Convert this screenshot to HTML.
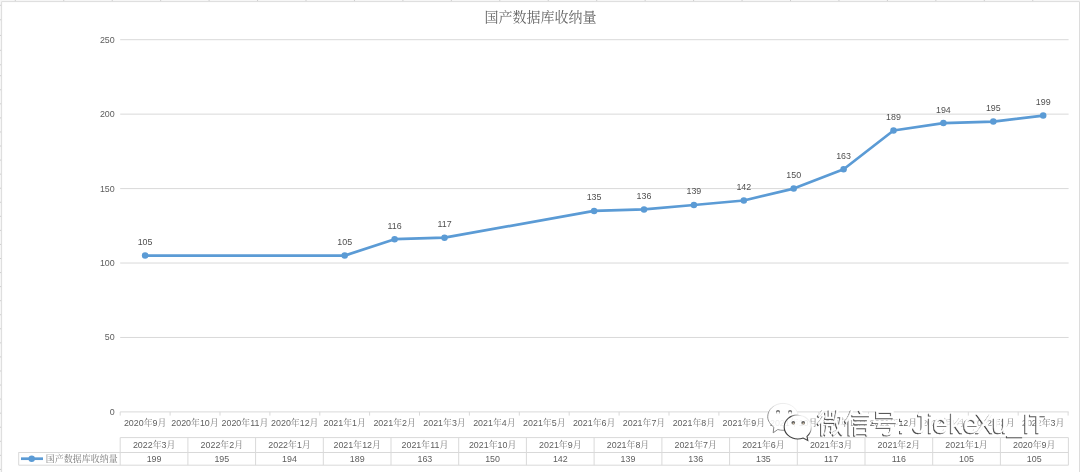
<!DOCTYPE html><html><head><meta charset="utf-8"><title>国产数据库收纳量</title><style>html,body{margin:0;padding:0;background:#fff;width:1080px;height:472px;overflow:hidden}svg{display:block;will-change:transform}text{font-family:"Liberation Sans", "Noto Serif CJK SC", sans-serif}.c{fill:#7a7a7a}</style></head><body>
<svg width="1080" height="472" viewBox="0 0 1080 472">
<rect x="0" y="0" width="1080" height="472" fill="#fff"/>
<rect x="0" y="0" width="1080" height="1.2" fill="#f6f6f6"/>
<rect x="0" y="0" width="1.2" height="472" fill="#f6f6f6"/>
<g fill="#cfcfcf">
<rect x="14.80" y="0" width="1" height="1.4"/>
<rect x="63.25" y="0" width="1" height="1.4"/>
<rect x="111.70" y="0" width="1" height="1.4"/>
<rect x="160.15" y="0" width="1" height="1.4"/>
<rect x="208.60" y="0" width="1" height="1.4"/>
<rect x="257.05" y="0" width="1" height="1.4"/>
<rect x="305.50" y="0" width="1" height="1.4"/>
<rect x="353.95" y="0" width="1" height="1.4"/>
<rect x="402.40" y="0" width="1" height="1.4"/>
<rect x="450.85" y="0" width="1" height="1.4"/>
<rect x="499.30" y="0" width="1" height="1.4"/>
<rect x="547.75" y="0" width="1" height="1.4"/>
<rect x="596.20" y="0" width="1" height="1.4"/>
<rect x="644.65" y="0" width="1" height="1.4"/>
<rect x="693.10" y="0" width="1" height="1.4"/>
<rect x="741.55" y="0" width="1" height="1.4"/>
<rect x="790.00" y="0" width="1" height="1.4"/>
<rect x="838.45" y="0" width="1" height="1.4"/>
<rect x="886.90" y="0" width="1" height="1.4"/>
<rect x="935.35" y="0" width="1" height="1.4"/>
<rect x="983.80" y="0" width="1" height="1.4"/>
<rect x="1032.25" y="0" width="1" height="1.4"/>
<rect x="0" y="4.80" width="1.4" height="1"/>
<rect x="0" y="19.30" width="1.4" height="1"/>
<rect x="0" y="34.90" width="1.4" height="1"/>
<rect x="0" y="49.80" width="1.4" height="1"/>
<rect x="0" y="64.30" width="1.4" height="1"/>
<rect x="0" y="468.90" width="1.4" height="1"/>
<rect x="0" y="454.84" width="1.4" height="1"/>
<rect x="0" y="440.78" width="1.4" height="1"/>
<rect x="0" y="426.72" width="1.4" height="1"/>
<rect x="0" y="412.66" width="1.4" height="1"/>
<rect x="0" y="398.60" width="1.4" height="1"/>
<rect x="0" y="384.54" width="1.4" height="1"/>
<rect x="0" y="370.48" width="1.4" height="1"/>
<rect x="0" y="356.42" width="1.4" height="1"/>
<rect x="0" y="342.36" width="1.4" height="1"/>
<rect x="0" y="328.30" width="1.4" height="1"/>
<rect x="0" y="314.24" width="1.4" height="1"/>
<rect x="0" y="300.18" width="1.4" height="1"/>
<rect x="0" y="286.12" width="1.4" height="1"/>
<rect x="0" y="272.06" width="1.4" height="1"/>
<rect x="0" y="258.00" width="1.4" height="1"/>
<rect x="0" y="243.94" width="1.4" height="1"/>
<rect x="0" y="229.88" width="1.4" height="1"/>
<rect x="0" y="215.82" width="1.4" height="1"/>
<rect x="0" y="201.76" width="1.4" height="1"/>
<rect x="0" y="187.70" width="1.4" height="1"/>
<rect x="0" y="173.64" width="1.4" height="1"/>
<rect x="0" y="159.58" width="1.4" height="1"/>
<rect x="0" y="145.52" width="1.4" height="1"/>
<rect x="0" y="131.46" width="1.4" height="1"/>
<rect x="0" y="117.40" width="1.4" height="1"/>
<rect x="0" y="103.34" width="1.4" height="1"/>
<rect x="0" y="89.28" width="1.4" height="1"/>
<rect x="0" y="75.22" width="1.4" height="1"/>
</g>
<path d="M1.6 472V1.6H1079.5V472" fill="none" stroke="#dcdcdc" stroke-width="1"/>
<text x="540.5" y="21.8" text-anchor="middle" font-size="14" fill="#646464" style="font-family:'Liberation Serif','Noto Serif CJK SC',serif">国产数据库收纳量</text>
<g stroke="#d9d9d9" stroke-width="1">
<line x1="120.2" y1="337.46" x2="1068.6" y2="337.46"/>
<line x1="120.2" y1="263.02" x2="1068.6" y2="263.02"/>
<line x1="120.2" y1="188.58" x2="1068.6" y2="188.58"/>
<line x1="120.2" y1="114.14" x2="1068.6" y2="114.14"/>
<line x1="120.2" y1="39.70" x2="1068.6" y2="39.70"/>
<line x1="120.2" y1="411.90" x2="1068.6" y2="411.90"/>
<line x1="120.2" y1="411.90" x2="120.2" y2="415.6"/>
<line x1="170.1" y1="411.90" x2="170.1" y2="415.6"/>
<line x1="220.0" y1="411.90" x2="220.0" y2="415.6"/>
<line x1="269.9" y1="411.90" x2="269.9" y2="415.6"/>
<line x1="319.8" y1="411.90" x2="319.8" y2="415.6"/>
<line x1="369.6" y1="411.90" x2="369.6" y2="415.6"/>
<line x1="419.5" y1="411.90" x2="419.5" y2="415.6"/>
<line x1="469.4" y1="411.90" x2="469.4" y2="415.6"/>
<line x1="519.3" y1="411.90" x2="519.3" y2="415.6"/>
<line x1="569.2" y1="411.90" x2="569.2" y2="415.6"/>
<line x1="619.1" y1="411.90" x2="619.1" y2="415.6"/>
<line x1="669.0" y1="411.90" x2="669.0" y2="415.6"/>
<line x1="718.9" y1="411.90" x2="718.9" y2="415.6"/>
<line x1="768.8" y1="411.90" x2="768.8" y2="415.6"/>
<line x1="818.7" y1="411.90" x2="818.7" y2="415.6"/>
<line x1="868.5" y1="411.90" x2="868.5" y2="415.6"/>
<line x1="918.4" y1="411.90" x2="918.4" y2="415.6"/>
<line x1="968.3" y1="411.90" x2="968.3" y2="415.6"/>
<line x1="1018.2" y1="411.90" x2="1018.2" y2="415.6"/>
<line x1="1068.1" y1="411.90" x2="1068.1" y2="415.6"/>
</g>
<g font-size="8.9" fill="#5e5e5e" text-anchor="end">
<text x="114.7" y="414.8">0</text>
<text x="114.7" y="340.4">50</text>
<text x="114.7" y="265.9">100</text>
<text x="114.7" y="191.5">150</text>
<text x="114.7" y="117.0">200</text>
<text x="114.7" y="42.6">250</text>
</g>
<g font-size="8.9" fill="#5e5e5e" text-anchor="middle">
<text x="145.1" y="426.3">2020<tspan class="c">年</tspan>9<tspan class="c">月</tspan></text>
<text x="195.0" y="426.3">2020<tspan class="c">年</tspan>10<tspan class="c">月</tspan></text>
<text x="244.9" y="426.3">2020<tspan class="c">年</tspan>11<tspan class="c">月</tspan></text>
<text x="294.8" y="426.3">2020<tspan class="c">年</tspan>12<tspan class="c">月</tspan></text>
<text x="344.7" y="426.3">2021<tspan class="c">年</tspan>1<tspan class="c">月</tspan></text>
<text x="394.6" y="426.3">2021<tspan class="c">年</tspan>2<tspan class="c">月</tspan></text>
<text x="444.5" y="426.3">2021<tspan class="c">年</tspan>3<tspan class="c">月</tspan></text>
<text x="494.4" y="426.3">2021<tspan class="c">年</tspan>4<tspan class="c">月</tspan></text>
<text x="544.3" y="426.3">2021<tspan class="c">年</tspan>5<tspan class="c">月</tspan></text>
<text x="594.1" y="426.3">2021<tspan class="c">年</tspan>6<tspan class="c">月</tspan></text>
<text x="644.0" y="426.3">2021<tspan class="c">年</tspan>7<tspan class="c">月</tspan></text>
<text x="693.9" y="426.3">2021<tspan class="c">年</tspan>8<tspan class="c">月</tspan></text>
<text x="743.8" y="426.3">2021<tspan class="c">年</tspan>9<tspan class="c">月</tspan></text>
<text x="793.7" y="426.3">2021<tspan class="c">年</tspan>10<tspan class="c">月</tspan></text>
<text x="843.6" y="426.3">2021<tspan class="c">年</tspan>11<tspan class="c">月</tspan></text>
<text x="893.5" y="426.3">2021<tspan class="c">年</tspan>12<tspan class="c">月</tspan></text>
<text x="943.4" y="426.3">2022<tspan class="c">年</tspan>1<tspan class="c">月</tspan></text>
<text x="993.3" y="426.3">2022<tspan class="c">年</tspan>2<tspan class="c">月</tspan></text>
<text x="1043.2" y="426.3">2022<tspan class="c">年</tspan>3<tspan class="c">月</tspan></text>
</g>
<polyline points="145.1,255.6 344.7,255.6 394.6,239.2 444.5,237.7 594.1,210.9 644.0,209.4 693.9,205.0 743.8,200.5 793.7,188.6 843.6,169.2 893.5,130.5 943.4,123.1 993.3,121.6 1043.2,115.6" fill="none" stroke="#5b9bd5" stroke-width="2.7" stroke-linejoin="round" stroke-linecap="round"/>
<g fill="#5b9bd5">
<circle cx="145.1" cy="255.6" r="3.25"/>
<circle cx="344.7" cy="255.6" r="3.25"/>
<circle cx="394.6" cy="239.2" r="3.25"/>
<circle cx="444.5" cy="237.7" r="3.25"/>
<circle cx="594.1" cy="210.9" r="3.25"/>
<circle cx="644.0" cy="209.4" r="3.25"/>
<circle cx="693.9" cy="205.0" r="3.25"/>
<circle cx="743.8" cy="200.5" r="3.25"/>
<circle cx="793.7" cy="188.6" r="3.25"/>
<circle cx="843.6" cy="169.2" r="3.25"/>
<circle cx="893.5" cy="130.5" r="3.25"/>
<circle cx="943.4" cy="123.1" r="3.25"/>
<circle cx="993.3" cy="121.6" r="3.25"/>
<circle cx="1043.2" cy="115.6" r="3.25"/>
</g>
<g font-size="8.9" fill="#505050" text-anchor="middle">
<text x="145.1" y="245.0">105</text>
<text x="344.7" y="245.0">105</text>
<text x="394.6" y="228.6">116</text>
<text x="444.5" y="227.1">117</text>
<text x="594.1" y="200.3">135</text>
<text x="644.0" y="198.8">136</text>
<text x="693.9" y="194.4">139</text>
<text x="743.8" y="189.9">142</text>
<text x="793.7" y="178.0">150</text>
<text x="843.6" y="158.6">163</text>
<text x="893.5" y="119.9">189</text>
<text x="943.4" y="112.5">194</text>
<text x="993.3" y="111.0">195</text>
<text x="1043.2" y="105.0">199</text>
</g>
<g stroke="#d9d9d9" stroke-width="1" fill="none">
<path d="M120.2 437.6H1068.4V465.2H18.7V452.5H120.2M120.2 437.6V465.2"/>
<path d="M18.7 452.5H1068.4"/>
<path d="M187.9 437.6V465.2"/>
<path d="M255.6 437.6V465.2"/>
<path d="M323.3 437.6V465.2"/>
<path d="M391.0 437.6V465.2"/>
<path d="M458.7 437.6V465.2"/>
<path d="M526.4 437.6V465.2"/>
<path d="M594.1 437.6V465.2"/>
<path d="M661.9 437.6V465.2"/>
<path d="M729.6 437.6V465.2"/>
<path d="M797.3 437.6V465.2"/>
<path d="M865.0 437.6V465.2"/>
<path d="M932.7 437.6V465.2"/>
<path d="M1000.4 437.6V465.2"/>
</g>
<g font-size="8.9" fill="#5e5e5e" text-anchor="middle">
<text x="154.1" y="448.1">2022<tspan class="c">年</tspan>3<tspan class="c">月</tspan></text>
<text x="154.1" y="461.8">199</text>
<text x="221.8" y="448.1">2022<tspan class="c">年</tspan>2<tspan class="c">月</tspan></text>
<text x="221.8" y="461.8">195</text>
<text x="289.5" y="448.1">2022<tspan class="c">年</tspan>1<tspan class="c">月</tspan></text>
<text x="289.5" y="461.8">194</text>
<text x="357.2" y="448.1">2021<tspan class="c">年</tspan>12<tspan class="c">月</tspan></text>
<text x="357.2" y="461.8">189</text>
<text x="424.9" y="448.1">2021<tspan class="c">年</tspan>11<tspan class="c">月</tspan></text>
<text x="424.9" y="461.8">163</text>
<text x="492.6" y="448.1">2021<tspan class="c">年</tspan>10<tspan class="c">月</tspan></text>
<text x="492.6" y="461.8">150</text>
<text x="560.3" y="448.1">2021<tspan class="c">年</tspan>9<tspan class="c">月</tspan></text>
<text x="560.3" y="461.8">142</text>
<text x="628.0" y="448.1">2021<tspan class="c">年</tspan>8<tspan class="c">月</tspan></text>
<text x="628.0" y="461.8">139</text>
<text x="695.7" y="448.1">2021<tspan class="c">年</tspan>7<tspan class="c">月</tspan></text>
<text x="695.7" y="461.8">136</text>
<text x="763.4" y="448.1">2021<tspan class="c">年</tspan>6<tspan class="c">月</tspan></text>
<text x="763.4" y="461.8">135</text>
<text x="831.1" y="448.1">2021<tspan class="c">年</tspan>3<tspan class="c">月</tspan></text>
<text x="831.1" y="461.8">117</text>
<text x="898.8" y="448.1">2021<tspan class="c">年</tspan>2<tspan class="c">月</tspan></text>
<text x="898.8" y="461.8">116</text>
<text x="966.5" y="448.1">2021<tspan class="c">年</tspan>1<tspan class="c">月</tspan></text>
<text x="966.5" y="461.8">105</text>
<text x="1034.2" y="448.1">2020<tspan class="c">年</tspan>9<tspan class="c">月</tspan></text>
<text x="1034.2" y="461.8">105</text>
</g>
<line x1="21" y1="458.7" x2="43" y2="458.7" stroke="#5b9bd5" stroke-width="2.7"/>
<circle cx="31.7" cy="458.7" r="3.2" fill="#5b9bd5"/>
<text x="45.8" y="462.1" font-size="9.0" fill="#7a7a7a">国产数据库收纳量</text>
<defs><linearGradient id="gs" x1="0" y1="1" x2="1" y2="0"><stop offset="0" stop-color="#333"/><stop offset="0.58" stop-color="#4a4a4a"/><stop offset="0.7" stop-color="#b0b0b0"/><stop offset="0.8" stop-color="#eee"/></linearGradient><linearGradient id="gb" x1="0" y1="1" x2="1" y2="0"><stop offset="0" stop-color="#777"/><stop offset="0.35" stop-color="#999"/><stop offset="0.6" stop-color="#e8e8e8"/><stop offset="1" stop-color="#f4f4f4"/></linearGradient><mask id="ms" maskUnits="userSpaceOnUse" x="760" y="395" width="60" height="50"><rect x="760" y="395" width="60" height="50" fill="#fff"/><path d="M797.75 415.3c7.5 0 13.55 5.4 13.55 12.05 0 3.6-1.6 6.8-4.3 9l.8 4.2-4.6-2.5c-1.7.6-3.5.9-5.45.9-7.5 0-13.55-5.4-13.55-12.05 0-6.65 6.05-12.05 13.55-12.05z" fill="#000"/></mask></defs>
<path d="M783 403.4c8.5 0 15.3 6 15.3 13.45 0 7.4-6.8 13.45-15.3 13.45-1.9 0-3.6-.3-5.2-.8l-4.6 3.3.6-5.6C770.6 424.6 767.7 421 767.7 416.85 767.7 409.4 774.5 403.4 783 403.4z M797.75 415.3c7.5 0 13.55 5.4 13.55 12.05 0 3.6-1.6 6.8-4.3 9l.8 4.2-4.6-2.5c-1.7.6-3.5.9-5.45.9-7.5 0-13.55-5.4-13.55-12.05 0-6.65 6.05-12.05 13.55-12.05z" fill="#fff" fill-opacity="0.88"/>
<path d="M783 403.4c8.5 0 15.3 6 15.3 13.45 0 7.4-6.8 13.45-15.3 13.45-1.9 0-3.6-.3-5.2-.8l-4.6 3.3.6-5.6C770.6 424.6 767.7 421 767.7 416.85 767.7 409.4 774.5 403.4 783 403.4z" fill="none" stroke="url(#gb)" stroke-width="1" mask="url(#ms)"/>
<path d="M797.75 415.3c7.5 0 13.55 5.4 13.55 12.05 0 3.6-1.6 6.8-4.3 9l.8 4.2-4.6-2.5c-1.7.6-3.5.9-5.45.9-7.5 0-13.55-5.4-13.55-12.05 0-6.65 6.05-12.05 13.55-12.05z" fill="none" stroke="url(#gs)" stroke-width="1.1"/>
<circle cx="778.0" cy="412.1" r="2.0" fill="#6a6a6a"/>
<circle cx="778.0" cy="413.0" r="1.55" fill="#fafafa"/>
<circle cx="790.1" cy="412.1" r="2.0" fill="#6a6a6a"/>
<circle cx="790.1" cy="413.0" r="1.55" fill="#fafafa"/>
<circle cx="793.3" cy="422.7" r="1.8" fill="#5a5a5a"/>
<circle cx="793.5" cy="423.5" r="1.0" fill="#c8b8a0"/>
<circle cx="803.2" cy="422.7" r="1.8" fill="#5a5a5a"/>
<circle cx="803.4" cy="423.5" r="1.0" fill="#c8b8a0"/>
<clipPath id="hc"><rect x="760" y="413.2" width="320" height="23.6"/></clipPath>
<g opacity="0.45" clip-path="url(#hc)">
<text x="817.2" y="432.6" font-size="27" fill="#fff" stroke="#fff" stroke-width="4.50" stroke-linejoin="round" style="font-family:'Liberation Sans','Noto Sans CJK SC',sans-serif;font-weight:400">微信号</text>
<g transform="translate(0.00,432.60) scale(1.000,1)"><text x="897.82 906.00 912.76 927.17 933.05 949.17 963.35 975.40 992.23 1007.41 1023.09 1029.40" y="0 0 0 0 0 0 0 0 0 -1.3 0 0" font-size="27.3" fill="#fff" stroke="#fff" stroke-width="4.50" stroke-linejoin="round" style="font-family:'Liberation Sans',sans-serif">: JiekeXu_IT</text></g>
</g>
<text x="816.2" y="433.6" font-size="27" fill="#454545" stroke="#454545" stroke-width="0.40" stroke-linejoin="round" style="font-family:'Liberation Sans','Noto Sans CJK SC',sans-serif;font-weight:400">微信号</text>
<g transform="translate(-1.00,433.60) scale(1.000,1)"><text x="897.82 906.00 912.76 927.17 933.05 949.17 963.35 975.40 992.23 1007.41 1023.09 1029.40" y="0 0 0 0 0 0 0 0 0 -1.3 0 0" font-size="27.3" fill="#454545" stroke="#454545" stroke-width="0.40" stroke-linejoin="round" style="font-family:'Liberation Sans',sans-serif">: JiekeXu_IT</text></g>
<text x="817.2" y="432.6" font-size="27" fill="#fff" stroke="#fff" stroke-width="0.50" stroke-linejoin="round" style="font-family:'Liberation Sans','Noto Sans CJK SC',sans-serif;font-weight:400">微信号</text>
<g transform="translate(0.00,432.60) scale(1.000,1)"><text x="897.82 906.00 912.76 927.17 933.05 949.17 963.35 975.40 992.23 1007.41 1023.09 1029.40" y="0 0 0 0 0 0 0 0 0 -1.3 0 0" font-size="27.3" fill="#fff" stroke="#fff" stroke-width="0.50" stroke-linejoin="round" style="font-family:'Liberation Sans',sans-serif">: JiekeXu_IT</text></g>
</svg></body></html>
